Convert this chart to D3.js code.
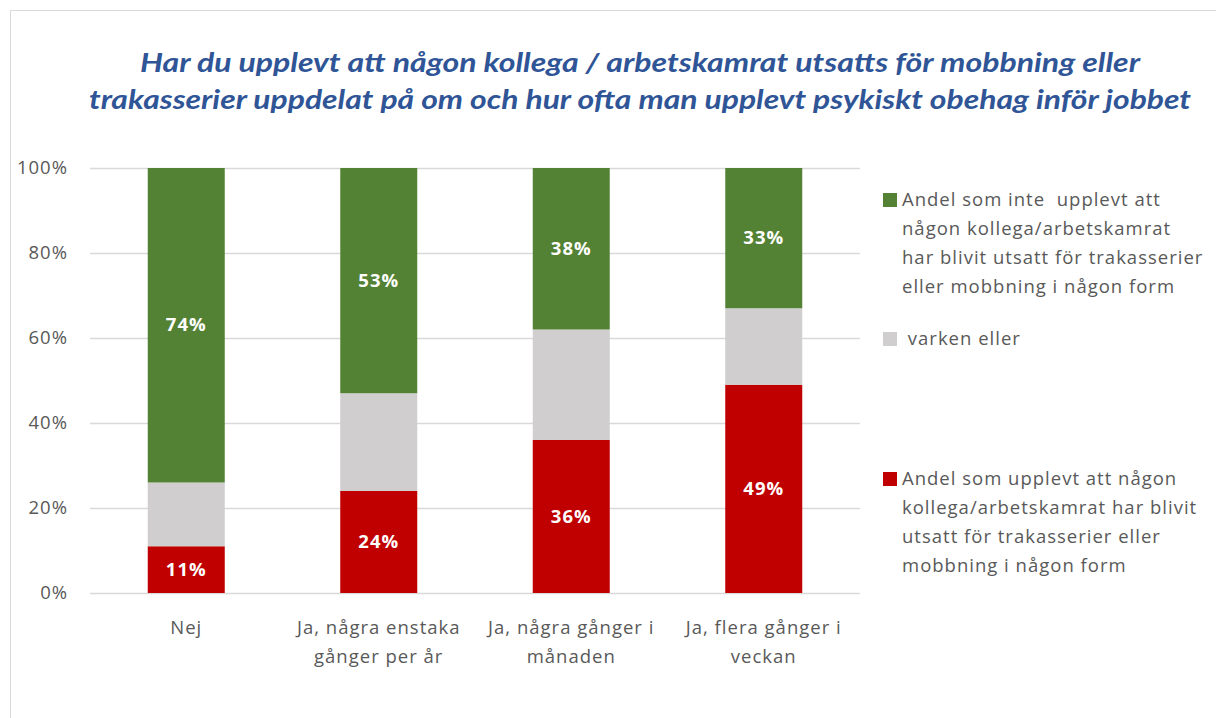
<!DOCTYPE html>
<html>
<head>
<meta charset="utf-8">
<script src="https://d3js.org/d3.v7.min.js"></script>
<style>
  body { margin: 0; background: #fff; }
  text { font-family: "Open Sans", Lato, sans-serif; letter-spacing: 1px; }
</style>
</head>
<body>
<div id="chart"></div>
<script>
// Categories and series values (percent)
const categories = [
  ['Nej'],
  ['Ja, några enstaka', 'gånger per år'],
  ['Ja, några gånger i', 'månaden'],
  ['Ja, flera gånger i', 'veckan']
];
const utsatt = [11, 24, 36, 49];
const varken = [15, 23, 26, 18];
const inte = [74, 53, 38, 33];
const yTicks = [0, 20, 40, 60, 80, 100];

const titleLines = [
  'Har du upplevt att någon kollega / arbetskamrat utsatts för mobbning eller',
  'trakasserier uppdelat på om och hur ofta man upplevt psykiskt obehag inför jobbet'
];

const legendItems = [
  { key: 'inte', color: '#548235', lines: ['Andel som inte  upplevt att', 'någon kollega/arbetskamrat', 'har blivit utsatt för trakasserier', 'eller mobbning i någon form'] },
  { key: 'varken', color: '#D0CECE', lines: [' varken eller'] },
  { key: 'utsatt', color: '#C00000', lines: ['Andel som upplevt att någon', 'kollega/arbetskamrat har blivit', 'utsatt för trakasserier eller', 'mobbning i någon form'] }
];

const width = 1216, height = 718;
const margin = { top: 168, left: 90, right: 356, bottom: 125 };
const fontSize = '18.5px';

const svg = d3.select('#chart').append('svg')
  .attr('width', width)
  .attr('height', height);

// chart border
svg.append('rect')
  .attr('x', 10.5).attr('y', 10.5)
  .attr('width', width).attr('height', height)
  .attr('fill', 'none')
  .attr('stroke', '#D9D9D9');

// title
svg.append('g').selectAll('text')
  .data(titleLines)
  .join('text')
  .attr('x', 640)
  .attr('y', (d, i) => 72 + i * 37)
  .attr('text-anchor', 'middle')
  .attr('textLength', (d, i) => i === 0 ? 1000 : 1102)
  .attr('lengthAdjust', 'spacingAndGlyphs')
  .style('font-family', 'Lato, sans-serif')
  .style('letter-spacing', '0px')
  .style('font-size', '27px')
  .style('font-weight', 'bold')
  .style('font-style', 'italic')
  .style('fill', '#2F5597')
  .text(d => d);

const x = d3.scaleBand()
  .domain(d3.range(categories.length))
  .range([margin.left, width - margin.right])
  .paddingInner(0.6)
  .paddingOuter(0.3);

const y = d3.scaleLinear()
  .domain([0, 100])
  .range([height - margin.bottom, margin.top]);

// gridlines
svg.append('g').selectAll('line')
  .data(yTicks)
  .join('line')
  .attr('x1', margin.left)
  .attr('x2', width - margin.right)
  .attr('y1', d => Math.round(y(d)) + 0.5)
  .attr('y2', d => Math.round(y(d)) + 0.5)
  .attr('stroke', '#D9D9D9')
  .attr('stroke-width', 1.5);

// y axis labels
const yAxis = svg.append('g')
  .attr('transform', `translate(${margin.left},0)`)
  .call(d3.axisLeft(y).tickValues(yTicks).tickFormat(d => d + '%').tickSize(0).tickPadding(22));
yAxis.select('.domain').remove();
yAxis.selectAll('text')
  .style('font-size', fontSize)
  .style('fill', '#595959')
  .style('font-family', '"Open Sans", sans-serif');

// stacked data
const rows = categories.map((c, i) => ({ i, utsatt: utsatt[i], varken: varken[i], inte: inte[i] }));
const keys = ['utsatt', 'varken', 'inte'];
const colors = { utsatt: '#C00000', varken: '#D0CECE', inte: '#548235' };
const stacked = d3.stack().keys(keys)(rows);

const layers = svg.append('g').selectAll('g')
  .data(stacked)
  .join('g')
  .attr('fill', d => colors[d.key]);

layers.selectAll('rect')
  .data(d => d)
  .join('rect')
  .attr('x', d => x(d.data.i))
  .attr('width', x.bandwidth())
  .attr('y', d => y(d[1]))
  .attr('height', d => y(d[0]) - y(d[1]));

// data labels (not on the grey segment)
stacked.filter(s => s.key !== 'varken').forEach(s => {
  svg.append('g').selectAll('text')
    .data(s)
    .join('text')
    .attr('x', d => x(d.data.i) + x.bandwidth() / 2)
    .attr('y', d => (y(d[0]) + y(d[1])) / 2 + 6)
    .attr('text-anchor', 'middle')
    .style('font-size', fontSize)
    .style('font-weight', 'bold')
    .style('fill', '#fff')
    .text(d => d.data[s.key] + '%');
});

// category labels
const catG = svg.append('g').selectAll('text')
  .data(categories)
  .join('text')
  .attr('x', (d, i) => x(i) + x.bandwidth() / 2)
  .attr('y', 634)
  .attr('text-anchor', 'middle')
  .style('font-size', fontSize)
  .style('fill', '#595959');
catG.selectAll('tspan')
  .data(d => d)
  .join('tspan')
  .attr('x', function () { return d3.select(this.parentNode).attr('x'); })
  .attr('dy', (d, i) => i === 0 ? 0 : 29)
  .text(d => d);

// legend
const legendY = [200, 339, 479];
const legend = svg.append('g').selectAll('g')
  .data(legendItems)
  .join('g')
  .attr('transform', (d, i) => `translate(883,${legendY[i]})`);

legend.append('rect')
  .attr('x', 0).attr('y', -7)
  .attr('width', 14).attr('height', 14)
  .attr('fill', d => d.color);

legend.append('text')
  .attr('y', 6)
  .style('font-size', fontSize)
  .style('fill', '#595959')
  .style('white-space', 'pre')
  .selectAll('tspan')
  .data(d => d.lines)
  .join('tspan')
  .attr('x', 19)
  .attr('dy', (d, i) => i === 0 ? 0 : 29)
  .text(d => d);
</script>
</body>
</html>
